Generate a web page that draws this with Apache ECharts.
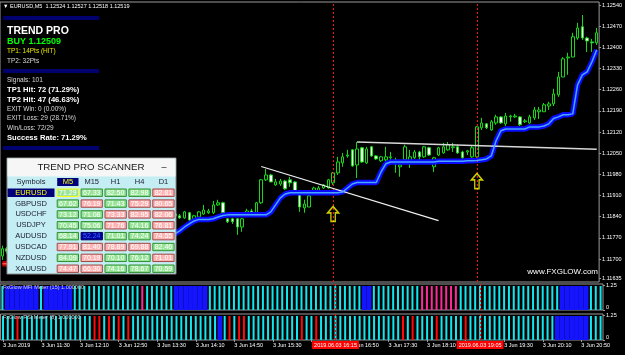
<!DOCTYPE html>
<html><head><meta charset="utf-8">
<script src="https://cdn.jsdelivr.net/npm/echarts@6/dist/echarts.min.js"></script>
<style>html,body{margin:0;padding:0;background:#000;}#c{width:625px;height:355px;}</style>
</head><body><div id="c"></div>
<script>
// ---------- DATA ----------
const times = ["10:50","10:55","11:00","11:05","11:10","11:15","11:20","11:25","11:30","11:35","11:40","11:45","11:50","11:55","12:00","12:05","12:10","12:15","12:20","12:25","12:30","12:35","12:40","12:45","12:50","12:55","13:00","13:05","13:10","13:15","13:20","13:25","13:30","13:35","13:40","13:45","13:50","13:55","14:00","14:05","14:10","14:15","14:20","14:25","14:30","14:35","14:40","14:45","14:50","14:55","15:00","15:05","15:10","15:15","15:20","15:25","15:30","15:35","15:40","15:45","15:50","15:55","16:00","16:05","16:10","16:15","16:20","16:25","16:30","16:35","16:40","16:45","16:50","16:55","17:00","17:05","17:10","17:15","17:20","17:25","17:30","17:35","17:40","17:45","17:50","17:55","18:00","18:05","18:10","18:15","18:20","18:25","18:30","18:35","18:40","18:45","18:50","18:55","19:00","19:05","19:10","19:15","19:20","19:25","19:30","19:35","19:40","19:45","19:50","19:55","20:00","20:05","20:10","20:15","20:20","20:25","20:30","20:35","20:40","20:45","20:50","20:55","21:00","21:05","21:10"];

// [open, close, low, high]
const candles = [
[1.11710,1.11734,1.11697,1.11744],[1.11734,1.11726,1.11718,1.11740],[1.11726,1.11716,1.11705,1.11731],[1.11716,1.11729,1.11712,1.11735],
[1.11729,1.11741,1.11724,1.11748],[1.11741,1.11735,1.11728,1.11750],[1.11735,1.11748,1.11731,1.11755],[1.11748,1.11760,1.11743,1.11766],
[1.11760,1.11752,1.11745,1.11764],[1.11752,1.11744,1.11736,1.11757],[1.11744,1.11757,1.11740,1.11762],[1.11757,1.11769,1.11752,1.11775],
[1.11769,1.11762,1.11755,1.11773],[1.11762,1.11774,1.11758,1.11780],[1.11774,1.11786,1.11770,1.11792],[1.11786,1.11779,1.11771,1.11790],
[1.11779,1.11770,1.11762,1.11783],[1.11770,1.11782,1.11766,1.11787],[1.11782,1.11793,1.11778,1.11799],[1.11793,1.11785,1.11778,1.11797],
[1.11785,1.11776,1.11768,1.11789],[1.11776,1.11788,1.11771,1.11793],[1.11788,1.11798,1.11783,1.11805],[1.11798,1.11791,1.11784,1.11802],
[1.11791,1.11803,1.11787,1.11808],[1.11803,1.11814,1.11798,1.11820],[1.11814,1.11806,1.11799,1.11818],[1.11806,1.11797,1.11790,1.11810],
[1.11797,1.11809,1.11792,1.11815],[1.11809,1.11820,1.11804,1.11826],[1.11820,1.11813,1.11806,1.11825],[1.11813,1.11825,1.11808,1.11830],
[1.11825,1.11836,1.11820,1.11842],[1.11836,1.11829,1.11822,1.11840],[1.11829,1.11840,1.11825,1.11846],[1.11840,1.11844,1.11834,1.11850],
[1.11843,1.11849,1.11833,1.11856],[1.11843,1.11836,1.11833,1.11849],[1.11836,1.11856,1.11833,1.11859],[1.11853,1.11829,1.11826,1.11856],
[1.11833,1.11843,1.11829,1.11846],[1.11839,1.11856,1.11839,1.11859],[1.11849,1.11862,1.11846,1.11879],[1.11853,1.11859,1.11849,1.11866],
[1.11853,1.11879,1.11849,1.11892],[1.11879,1.11886,1.11876,1.11896],[1.11886,1.11853,1.11849,1.11889],[1.11833,1.11823,1.11819,1.11836],
[1.11833,1.11823,1.11816,1.11836],[1.11833,1.11806,1.11780,1.11836],[1.11806,1.11833,1.11790,1.11836],[1.11853,1.11859,1.11849,1.11866],
[1.11859,1.11853,1.11849,1.11866],[1.11853,1.11886,1.11849,1.11889],[1.11886,1.11962,1.11882,1.11965],[1.11962,1.11978,1.11958,1.11998],
[1.11978,1.11955,1.11955,1.11982],[1.11945,1.11955,1.11942,1.11965],[1.11948,1.11958,1.11942,1.11965],[1.11958,1.11932,1.11929,1.11962],
[1.11962,1.11952,1.11939,1.11972],[1.11955,1.11922,1.11919,1.11958],[1.11922,1.11872,1.11856,1.11925],[1.11869,1.11882,1.11853,1.11896],
[1.11872,1.11909,1.11872,1.11912],[1.11922,1.11935,1.11919,1.11939],[1.11925,1.11935,1.11922,1.11942],[1.11935,1.11945,1.11932,1.11948],
[1.11935,1.11962,1.11932,1.11965],[1.11952,1.11985,1.11945,1.11988],[1.11985,1.12021,1.11978,1.12038],[1.12018,1.12038,1.12005,1.12051],
[1.12041,1.12044,1.12035,1.12061],[1.12061,1.12008,1.12005,1.12064],[1.12011,1.12064,1.11968,1.12087],[1.12068,1.12021,1.12018,1.12071],
[1.12018,1.12064,1.12015,1.12071],[1.12071,1.12041,1.12038,1.12074],[1.12041,1.12031,1.12028,1.12044],[1.12025,1.12038,1.12021,1.12041],
[1.12028,1.12038,1.12005,1.12071],[1.12035,1.12038,1.12018,1.12054],[1.12021,1.12028,1.11985,1.12035],[1.12005,1.12011,1.11972,1.12018],
[1.12028,1.12071,1.12025,1.12078],[1.12021,1.12038,1.12001,1.12061],[1.12035,1.12054,1.12031,1.12061],[1.12054,1.12038,1.12028,1.12058],
[1.12038,1.12071,1.12035,1.12074],[1.12068,1.12044,1.12041,1.12071],[1.12005,1.12035,1.11988,1.12038],[1.12044,1.12068,1.12041,1.12071],
[1.12051,1.12071,1.12048,1.12084],[1.12061,1.12078,1.12058,1.12087],[1.12068,1.12071,1.12054,1.12084],[1.12071,1.12051,1.12048,1.12078],
[1.12054,1.12035,1.12031,1.12058],[1.12054,1.12058,1.12044,1.12061],[1.12038,1.12068,1.12035,1.12074],[1.12038,1.12137,1.12035,1.12140],
[1.12134,1.12150,1.12127,1.12167],[1.12147,1.12134,1.12130,1.12150],[1.12127,1.12154,1.12124,1.12160],[1.12150,1.12170,1.12144,1.12177],
[1.12170,1.12150,1.12147,1.12173],[1.12147,1.12173,1.12140,1.12183],[1.12170,1.12173,1.12154,1.12177],[1.12170,1.12173,1.12167,1.12180],
[1.12170,1.12144,1.12140,1.12173],[1.12154,1.12157,1.12150,1.12163],[1.12150,1.12170,1.12147,1.12177],[1.12167,1.12193,1.12160,1.12203],
[1.12187,1.12193,1.12163,1.12203],[1.12187,1.12210,1.12187,1.12216],[1.12206,1.12213,1.12193,1.12220],[1.12213,1.12246,1.12206,1.12263],
[1.12243,1.12302,1.12236,1.12319],[1.12302,1.12362,1.12302,1.12368],[1.12365,1.12368,1.12309,1.12382],[1.12368,1.12435,1.12368,1.12448],
[1.12431,1.12464,1.12425,1.12481],[1.12468,1.12431,1.12425,1.12507],[1.12431,1.12421,1.12385,1.12435],[1.12418,1.12415,1.12385,1.12428],
[1.12415,1.12448,1.12408,1.12464]];

// trend line (glow) value per bar; bars up to trendFlip are the red (down) state
const trendValues = [
1.11684,1.11684,1.11684,1.11684,1.11697,1.11697,1.11697,1.11697,1.11697,1.11697,1.11697,1.11697,1.11697,
1.11730,1.11730,1.11730,1.11730,1.11730,1.11730,1.11730,1.11730,1.11730,1.11730,
1.11747,1.11747,1.11747,1.11747,1.11747,1.11747,1.11747,1.11747,1.11763,1.11763,1.11763,1.11770,1.11776,
1.11783,1.11793,1.11806,1.11816,1.11826,1.11831,1.11831,1.11831,1.11833,1.11839,1.11844,
1.11846,1.11846,1.11846,1.11846,1.11846,1.11846,1.11846,1.11846,1.11846,
1.11856,1.11879,1.11902,1.11915,
1.11919,1.11919,1.11919,1.11919,1.11919,1.11919,1.11919,1.11919,1.11919,1.11919,1.11919,
1.11922,1.11935,1.11948,1.11953,1.11953,1.11953,1.11953,1.11953,1.11988,1.12015,
1.12021,1.12021,1.12021,1.12021,1.12021,1.12021,1.12021,1.12021,1.12021,1.12021,
1.12023,1.12023,1.12023,1.12023,1.12023,1.12023,1.12025,1.12025,1.12026,
1.12028,1.12031,1.12041,1.12091,1.12124,1.12130,1.12130,1.12130,1.12130,1.12130,
1.12137,1.12137,1.12137,1.12140,1.12147,1.12165,1.12170,1.12177,1.12177,1.12180,
1.12276,1.12309,1.12319,1.12352,1.12392];
const trendFlip = 3;

const priceTicks = [1.11635,1.11700,1.11770,1.11840,1.11910,1.11980,1.12050,1.12120,1.12190,1.12260,1.12330,1.12400,1.12470,1.12540];
const bidPrice = 1.12519;

// white trend lines: [barIndex, price] pairs
const trendLine1 = [[54, 1.12006], [91, 1.11827]];
const trendLine2 = [[74, 1.12087], [124, 1.12063]];

// signal arrows [barIndex, price]
const buyArrows = [[69, 1.11849], [99, 1.11958]];

// vertical time lines
const vlineIdx = [69, 99];
const vlineLabels = ['2019.06.03 16:15', '2019.06.03 19:05'];

// meter states as runs [state, count]; 0 cyan, 1 blue, 2 pink, 3 red
const mfiRuns = [[0,1],[1,7],[0,1],[1,6],[0,14],[2,1],[0,6],[1,7],[0,32],[1,2],[0,10],[2,8],[0,21],[1,6],[0,3]];
const rsiRuns = [[0,3],[3,1],[0,15],[3,2],[0,1],[3,1],[0,1],[3,1],[0,1],[3,1],[0,18],[1,1],[0,1],[3,1],[0,1],[3,2],[0,11],[3,1],[0,2],[3,1],[0,17],[3,1],[0,1],[3,1],[0,4],[3,1],[0,5],[3,1],[0,18],[1,7],[0,3]];
const meterLevel = 1.2;
const meterTicks = [0, 1.25];

// info panel text
const headerText = '\u25BC EURUSD,M5  1.12524 1.12527 1.12518 1.12519';
const infoLines = ['TREND PRO','BUY 1.12509','TP1: 14Pts (HIT)','TP2: 32Pts','Signals: 101','TP1 Hit: 72 (71.29%)','TP2 Hit: 47 (46.63%)','EXIT Win: 0 (0.00%)','EXIT Loss: 29 (28.71%)','Win/Loss: 72/29','Success Rate: 71.29%'];

// scanner
const scanTitle = 'TREND PRO SCANNER';
const scanSymbols = ['EURUSD','GBPUSD','USDCHF','USDJPY','AUDUSD','USDCAD','NZDUSD','XAUUSD'];
const scanFrames = ['M5','M15','H1','H4','D1'];
const scanValues = [
 ['71.29','67.33','82.50','82.98','82.81'],
 ['67.62','76.19','71.43','75.29','80.65'],
 ['73.12','71.08','73.33','82.95','82.06'],
 ['70.45','75.06','71.76','74.16','76.81'],
 ['68.14','52.24','71.01','74.24','74.55'],
 ['77.91','81.40','78.89','69.88','82.46'],
 ['84.09','70.19','70.10','76.12','71.01'],
 ['74.47','66.30','74.16','78.67','70.59']];
const scanSignals = ['GGGGR','GRGRR','GGRRR','GGRGR','GBGGR','RRRRG','GRGGR','RRGGG'];

const paneLabels = ['FxGlow MFI Meter (15) 1.000000', 'FxGlow RSI Meter (8) 1.000000'];
const watermark = 'www.FXGLOW.com';

// ---------- BUILD ----------
const F = '"Liberation Sans", Arial, sans-serif';
function expand(runs){ const out=[]; runs.forEach(([s,n])=>{for(let k=0;k<n;k++) out.push(s);}); return out; }
const mfiStates = expand(mfiRuns), rsiStates = expand(rsiRuns);
const mfiData = mfiStates.map((s,i)=>[i,s,meterLevel]);
const rsiData = rsiStates.map((s,i)=>[i,s,meterLevel]);
const meterPalette = ['#10e8f0','#1414ff','#ff2a9a','#ff0a0a'];
function meterRender(params, api){
  const st = api.value(1);
  const top = api.coord([api.value(0), api.value(2)]);
  const base = api.coord([api.value(0), 0]);
  const w = st === 1 ? 4.8 : 2;
  return {type:'rect', shape:{x: top[0]-w/2, y: top[1], width: w, height: base[1]-top[1]}, style:{fill: meterPalette[st]}};
}
const redData = trendValues.map((v,i)=> i<=trendFlip ? v : null);
const blueData = trendValues.map((v,i)=> i>=trendFlip ? v : null);

const vlineStyle = {color:'#ff1010', type:[2,2], width:1};
function vlines(withLabel){
  return vlineIdx.map((idx,k)=>({
    xAxis: times[idx], lineStyle: vlineStyle,
    label: withLabel ? {show:true, position:'start', distance:1, formatter: vlineLabels[k], backgroundColor:'#ff0000', color:'#ffffff', fontSize:5.5, fontFamily:F, padding:[1,2,1,2]} : {show:false}
  }));
}

const gridBase = {left:-1, right:22, show:true, borderColor:'#9a9a9a', borderWidth:1};
const grids = [
  Object.assign({top:2, height:280}, gridBase),
  Object.assign({top:284, height:26}, gridBase),
  Object.assign({top:314, height:26}, gridBase)];

const xAxes = [0,1,2].map(g=>({type:'category', gridIndex:g, data:times, boundaryGap:true,
  axisLine:{show:false}, axisTick:{show:false}, axisLabel:{show:false}, splitLine:{show:false}}));
xAxes[2].axisLabel = {show:true, interval:(i)=> i%8===0, formatter:(v,i)=> i===0 ? '3 Jun 2019' : '3 Jun '+v,
  color:'#ffffff', fontSize:5.5, fontFamily:F, align:'left', margin:2};
xAxes[2].axisTick = {show:true, alignWithLabel:true, interval:(i)=> i%8===0, length:2, lineStyle:{color:'#9a9a9a'}};

const meterY = g => ({type:'value', gridIndex:g, position:'right', min:0, max:1.3,
  splitLine:{show:false}, axisLine:{show:false},
  axisTick:{show:true, customValues: meterTicks, length:2, lineStyle:{color:'#9a9a9a'}},
  axisLabel:{customValues: meterTicks, formatter: v => v===0 ? '{z|0}' : v.toFixed(2), color:'#ffffff', fontSize:5.5, fontFamily:F, margin:3,
    rich:{z:{padding:[0,0,5,0], fontSize:5.5, color:'#ffffff', fontFamily:F}}}});

const yAxes = [
  {type:'value', gridIndex:0, position:'right', min:1.11624, max:1.12550,
   splitLine:{show:false}, axisLine:{show:false},
   axisTick:{show:true, customValues: priceTicks, length:2, lineStyle:{color:'#9a9a9a'}},
   axisLabel:{customValues: priceTicks, formatter: v => v.toFixed(5), color:'#ffffff', fontSize:5.5, fontFamily:F, margin:3}},
  meterY(1), meterY(2)];

const arrowPath = 'path://M5,0 L10,6 L7,6 L7,14 L3,14 L3,6 L0,6 Z';

const series = [
  {type:'candlestick', xAxisIndex:0, yAxisIndex:0, data:candles, barWidth:3, z:3,
   itemStyle:{color:'#000000', color0:'#ffffff', borderColor:'#16d816', borderColor0:'#16d816', borderWidth:1},
   markLine:{symbol:['none','none'], silent:true, animation:false,
     data: vlines(false).concat([
       {yAxis: bidPrice, lineStyle:{color:'#9a9a9a', type:'solid', width:1},
        label:{show:true, position:'end', distance:2, formatter: bidPrice.toFixed(5), backgroundColor:'#e6e6e6', color:'#000000', fontSize:5.5, fontFamily:F, padding:[1,1,1,1]}},
       [{coord:[times[trendLine1[0][0]], trendLine1[0][1]], lineStyle:{color:'#f0f0f0', type:'solid', width:1.2}, label:{show:false}},
        {coord:[times[trendLine1[1][0]], trendLine1[1][1]]}],
       [{coord:[times[trendLine2[0][0]], trendLine2[0][1]], lineStyle:{color:'#d8d8d8', type:'solid', width:1.6}, label:{show:false}},
        {coord:[times[trendLine2[1][0]], trendLine2[1][1]]}]
     ])}},
  {type:'line', xAxisIndex:0, yAxisIndex:0, data:blueData, symbol:'none', z:4, silent:true, connectNulls:false,
   lineStyle:{color:'#0a0aff', width:5.5}},
  {type:'line', xAxisIndex:0, yAxisIndex:0, data:blueData, symbol:'none', z:5, silent:true,
   lineStyle:{color:'#46a8ff', width:1.5}},
  {type:'line', xAxisIndex:0, yAxisIndex:0, data:redData, symbol:'none', z:4, silent:true,
   lineStyle:{color:'#c00000', width:5.5}},
  {type:'line', xAxisIndex:0, yAxisIndex:0, data:redData, symbol:'none', z:5, silent:true,
   lineStyle:{color:'#ff5050', width:1.5}},
  {type:'scatter', xAxisIndex:0, yAxisIndex:0, data: buyArrows.map(a=>[times[a[0]], a[1]]), symbol: arrowPath, symbolSize:[11,15], z:6, silent:true,
   itemStyle:{color:'rgba(0,0,0,0)', borderColor:'#ffff00', borderWidth:1.5}},
  {type:'custom', xAxisIndex:1, yAxisIndex:1, data:mfiData, renderItem:meterRender, encode:{x:0, y:2}, silent:true, z:2},
  {type:'custom', xAxisIndex:2, yAxisIndex:2, data:rsiData, renderItem:meterRender, encode:{x:0, y:2}, silent:true, z:2},
  {type:'line', xAxisIndex:1, yAxisIndex:1, data: mfiData.map(d=>d[2]), symbol:'none', silent:true, lineStyle:{opacity:0}, z:3,
   markLine:{symbol:['none','none'], silent:true, animation:false, data: vlines(false)}},
  {type:'line', xAxisIndex:2, yAxisIndex:2, data: rsiData.map(d=>d[2]), symbol:'none', silent:true, lineStyle:{opacity:0}, z:3,
   markLine:{symbol:['none','none'], silent:true, animation:false, data: vlines(true)}}
];

// ---------- overlay graphics (text panels) ----------
const G = [];
function txt(text, x, y, font, fill, align){ G.push({type:'text', z:100, style:{text, x, y, font, fill, align: align||'left', verticalAlign:'middle'}}); }
function rect(x, y, w, h, fill, stroke, lw){ G.push({type:'rect', z:100, shape:{x, y, width:w, height:h}, style:{fill, stroke: stroke||null, lineWidth: lw||0}}); }

txt(headerText, 3, 6.5, '5.5px '+F, '#ffffff');
// navy separators
rect(3, 16, 96, 4, '#00006e'); rect(3, 69, 96, 4, '#00006e'); rect(3, 146, 96, 4, '#00006e');
const infoY = [30.7, 41.7, 51.7, 61, 80.3, 90, 99.7, 109, 118.7, 128.3, 137.7];
const infoFont = ['bold 10.5px ','bold 9px ','6.5px ','6.5px ','6.5px ','bold 7.6px ','bold 7.6px ','6.5px ','6.5px ','6.5px ','bold 7.6px '];
const infoFill = ['#ffffff','#00ff00','#e6e600','#d8d8d8','#d8d8d8','#ffffff','#ffffff','#d8d8d8','#d8d8d8','#d8d8d8','#ffffff'];
infoLines.forEach((t,k)=> txt(t, 7, infoY[k], infoFont[k]+F, infoFill[k]));

// scanner panel
const pX=7, pY=158, pW=169, pH=116, tH=18;
rect(pX, pY, pW, pH, '#c4eef4', '#8a8a8a', 1);
rect(pX+0.5, pY+0.5, pW-1, tH, '#f6f6f6');
txt(scanTitle, 91, 167, '9.7px '+F, '#151515', 'center');
txt('\u2013', 164, 167.5, '9px '+F, '#151515', 'center');
const colX0 = 56.7, colStep = 23.9, cellW = 22.3, rowY0 = 192.7, rowStep = 10.86, cellH = 8.4, headY = 182;
txt('Symbols', 31, headY, '7.5px '+F, '#1a1a30', 'center');
scanFrames.forEach((f,k)=>{
  const cx = colX0 + k*colStep + cellW/2;
  if (k===0) rect(colX0+0.5, headY-4, cellW-1, 8, '#00007a');
  txt(f, cx, headY, '7.5px '+F, k===0 ? '#ffff00' : '#1a1a30', 'center');
});
const cellFill = {G:'#98e498', R:'#ffb4b4', B:'#0000a0'};
const cellStroke = {G:'#2f8f2f', R:'#a04848', B:'#000060'};
const cellText = {G:'#ffffff', R:'#ffffff', B:'#3a6cff'};
scanSymbols.forEach((s,r)=>{
  const cy = rowY0 + r*rowStep;
  if (r===0) rect(pX+0.5, cy-4.2, 47, 8.4, '#00007a');
  txt(s, 31, cy, '7.5px '+F, r===0 ? '#ffff00' : '#1a1a30', 'center');
  for (let k=0;k<5;k++){
    const sig = scanSignals[r][k];
    const x = colX0 + k*colStep;
    const stroke = (r===0 && k===0) ? '#ffff00' : cellStroke[sig];
    rect(x+0.5, cy-cellH/2+0.5, cellW-1, cellH-1, cellFill[sig], stroke, 1);
    txt(scanValues[r][k], x+cellW/2, cy+0.3, '7px '+F, cellText[sig], 'center');
  }
});

txt(paneLabels[0], 3, 287, '5.5px '+F, '#d0d0d0');
txt(paneLabels[1], 3, 317.5, '5.5px '+F, '#d0d0d0');
txt(watermark, 598, 272, '8px '+F, '#ffffff', 'right');

const chart = echarts.init(document.getElementById('c'), null, {renderer:'canvas'});
chart.setOption({
  backgroundColor:'#000000', animation:false, textStyle:{fontFamily:F},
  grid: grids, xAxis: xAxes, yAxis: yAxes, series: series,
  graphic: {elements: G}
});
</script></body></html>
